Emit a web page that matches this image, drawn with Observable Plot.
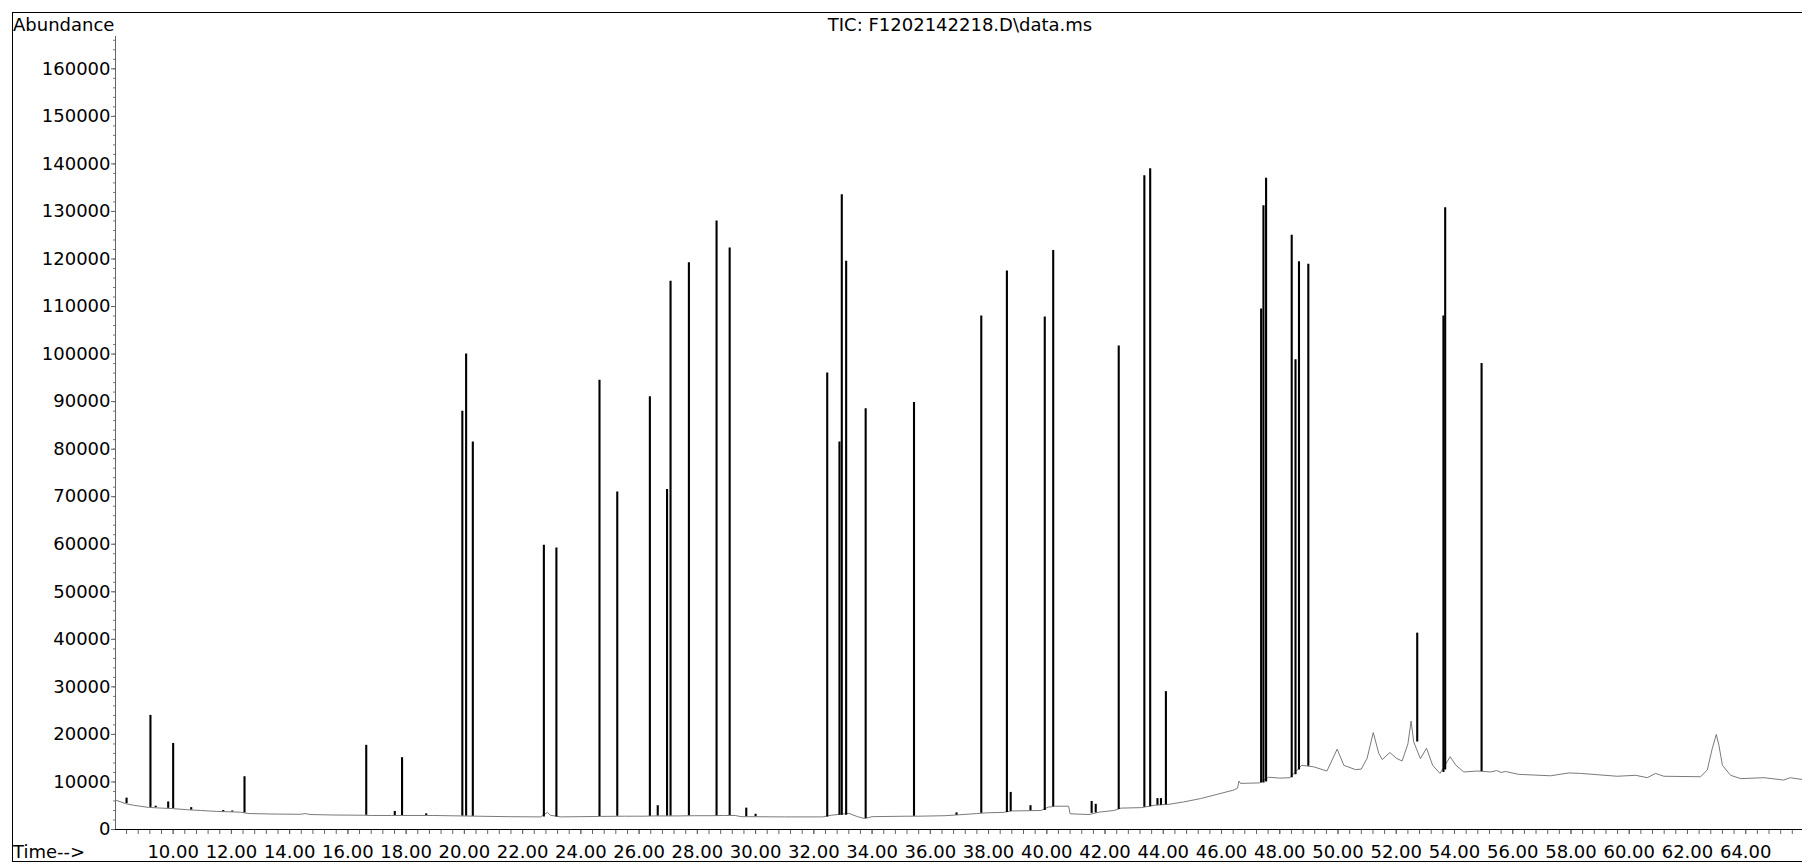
<!DOCTYPE html>
<html>
<head>
<meta charset="utf-8">
<script src="https://cdn.jsdelivr.net/npm/d3@7"></script>
<script src="https://cdn.jsdelivr.net/npm/@observablehq/plot@0.6"></script>
<style>
  html, body { margin: 0; padding: 0; background: #fff; overflow: hidden; }
  #wrap { position: relative; width: 1802px; height: 864px; font-family: "DejaVu Sans", sans-serif; color: #000; }
  #frame { position: absolute; left: 12px; top: 12px; width: 1900px; height: 850px; border: 1px solid #000; border-right: none; box-sizing: border-box; pointer-events: none; }
  .lbl { position: absolute; font-size: 18px; line-height: 18px; white-space: nowrap; }
  #chart { position: absolute; left: 0; top: 0; }
</style>
</head>
<body>
<div id="wrap">
  <div id="chart"></div>
  <div id="frame"></div>
  <div class="lbl" id="ylab" style="left:13px; top:15.5px;">Abundance</div>
  <div class="lbl" id="title" style="left:660px; width:600px; text-align:center; top:15.5px;">TIC: F1202142218.D\data.ms</div>
  <div class="lbl" id="xlab" style="left:13px; top:842.5px;">Time--&gt;</div>
</div>
<script>
// ---- Data ----
// Baseline trace (time in min, abundance), including broad humps
const baseT = [8.02, 8.36, 8.64, 9.15, 9.6, 9.97, 10.5, 10.94, 11.5, 12.31, 12.6, 13.5, 14.37, 14.54, 14.7, 15.5, 16.54, 16.8, 17.5, 18.2, 18.95, 19.87, 20.44, 21.5, 22.62, 22.85, 22.95, 23.31, 24.0, 24.67, 25.5, 26.2, 26.5, 27.3, 27.9, 28.5, 28.9, 29.3, 29.5, 31.0, 32.3, 32.6, 33.2, 33.5, 33.75, 34.0, 35.2, 35.6, 36.5, 37.0, 37.6, 37.9, 38.5, 38.8, 39.8, 40.05, 40.3, 40.75, 40.8, 41.45, 41.8, 42.3, 42.55, 43.25, 43.7, 44.2, 44.7, 45.28, 45.85, 46.42, 46.55, 46.6, 46.65, 47.3, 47.62, 48.0, 48.35, 48.75, 49.15, 49.62, 49.97, 50.2, 50.6, 50.8, 51.0, 51.21, 51.4, 51.52, 51.78, 52.0, 52.2, 52.4, 52.51, 52.6, 52.83, 53.04, 53.25, 53.5, 53.85, 54.05, 54.32, 54.78, 55.24, 55.45, 55.6, 55.75, 56.2, 57.3, 57.93, 58.33, 59.59, 60.22, 60.62, 60.9, 61.19, 62.45, 62.68, 62.85, 62.99, 63.08, 63.2, 63.48, 63.83, 64.63, 65.3, 65.53, 65.95];
const baseV = [6200, 5450, 5100, 4650, 4500, 4400, 4150, 4000, 3800, 3650, 3350, 3250, 3200, 3350, 3150, 3050, 3000, 2950, 2950, 2950, 2950, 2850, 2800, 2700, 2650, 3600, 3000, 2650, 2700, 2750, 2800, 2800, 2850, 2850, 2900, 2900, 2950, 2950, 2700, 2650, 2650, 3000, 3400, 2700, 2300, 2700, 2800, 2800, 2900, 3100, 3350, 3500, 3600, 3900, 4000, 4700, 4900, 4900, 3300, 3150, 3650, 4000, 4500, 4600, 5100, 5300, 5800, 6500, 7400, 8300, 8700, 10200, 9700, 9800, 11000, 10800, 10900, 13500, 13200, 12300, 16900, 13500, 12600, 12700, 15000, 20400, 16000, 14700, 16200, 15000, 14400, 18000, 22800, 18400, 14900, 17100, 13500, 11800, 15300, 13500, 12100, 12300, 12100, 12400, 12000, 12200, 11600, 11300, 11900, 11800, 11200, 11400, 10900, 11800, 11200, 11100, 12500, 17000, 20000, 17700, 13500, 11400, 10700, 10900, 10400, 10900, 10500];

// Sharp peaks: retention time, local baseline, apex abundance
const peakT    = [8.40, 9.22, 9.40, 9.83, 10.00, 10.62, 11.72, 12.03, 12.45, 16.63, 17.61, 17.86, 18.69, 19.93, 20.06, 20.29, 22.73, 23.16, 24.64, 25.25, 26.37, 26.64, 26.96, 27.08, 27.71, 28.66, 29.11, 29.68, 30.00, 32.46, 32.88, 32.96, 33.11, 33.78, 35.44, 36.90, 37.75, 38.63, 38.76, 39.44, 39.93, 40.22, 41.54, 41.68, 42.47, 43.35, 43.55, 43.80, 43.92, 44.09, 47.36, 47.44, 47.53, 48.41, 48.54, 48.66, 48.98, 52.72, 53.62, 53.68, 54.93];
const peakBase = [5450, 4650, 4600, 4450, 4400, 4100, 3750, 3700, 3500, 3000, 2950, 2950, 2950, 2850, 2850, 2800, 2650, 2650, 2750, 2800, 2800, 2850, 2850, 2850, 2900, 2900, 2950, 2700, 2700, 2650, 3000, 3000, 3000, 2300, 2800, 3000, 3400, 3600, 3800, 3950, 4000, 4800, 3400, 3500, 4200, 4700, 4800, 5100, 5100, 5200, 9800, 9800, 10000, 10900, 11500, 12500, 13300, 18400, 12000, 12500, 12200];
const peakH    = [6600, 24000, 4900, 5800, 18100, 4600, 4000, 3900, 11100, 17700, 3800, 15100, 3300, 88000, 100000, 81500, 59800, 59200, 94500, 71000, 91000, 5000, 71500, 115300, 119200, 128000, 122300, 4500, 3200, 96000, 81500, 133500, 119500, 88500, 89800, 3500, 108000, 117500, 7800, 5000, 107800, 121800, 5900, 5300, 101700, 137500, 139000, 6500, 6500, 29000, 109500, 131200, 137000, 125000, 98800, 119400, 118900, 41300, 108000, 130800, 98000];

// Axis ticks
const xLabelTicks = [10, 12, 14, 16, 18, 20, 22, 24, 26, 28, 30, 32, 34, 36, 38, 40, 42, 44, 46, 48, 50, 52, 54, 56, 58, 60, 62, 64];
const yLabelTicks = [0, 10000, 20000, 30000, 40000, 50000, 60000, 70000, 80000, 90000, 100000, 110000, 120000, 130000, 140000, 150000, 160000];
const xDomain = [8.02, 65.95];
const yDomain = [0, 166800];

const baseline = baseT.map((t, i) => ({t, v: baseV[i]}));
const peaks = peakT.map((t, i) => ({t, base: peakBase[i], h: peakH[i]}));
const xMinor = d3.range(8.4, 65.9, 0.4);
const yMinor = d3.range(0, 166001, 2000);

const chart = Plot.plot({
  width: 1802,
  height: 864,
  marginLeft: 115,
  marginRight: 0,
  marginTop: 36,
  marginBottom: 35,
  style: {fontFamily: "DejaVu Sans", fontSize: "18px", color: "#000", background: "transparent"},
  x: {domain: xDomain, label: null},
  y: {domain: yDomain, label: null},
  marks: [
    Plot.axisY({ticks: yMinor, tickSize: 2, tickFormat: () => "", label: null, stroke: "#777"}),
    Plot.axisY({ticks: yLabelTicks, tickSize: 4, tickPadding: 1, tickFormat: d => String(d), label: null, fontSize: 18, stroke: "#666"}),
    Plot.axisX({ticks: xMinor, tickSize: 5, tickFormat: () => "", label: null, stroke: "#666"}),
    Plot.axisX({ticks: xLabelTicks, tickSize: 5, tickPadding: 11, tickFormat: d => d.toFixed(2), label: null, fontSize: 18, stroke: "#666"}),
    Plot.ruleX([xDomain[0]], {stroke: "#666", strokeWidth: 1}),
    Plot.line(baseline, {x: "t", y: "v", stroke: "#7a7a7a", strokeWidth: 1}),
    Plot.ruleX(peaks, {x: "t", y1: "base", y2: "h", stroke: "#000", strokeWidth: 2.1}),
    Plot.ruleY([0], {stroke: "#000", strokeWidth: 1})
  ]
});
document.getElementById("chart").appendChild(chart);
</script>
</body>
</html>
